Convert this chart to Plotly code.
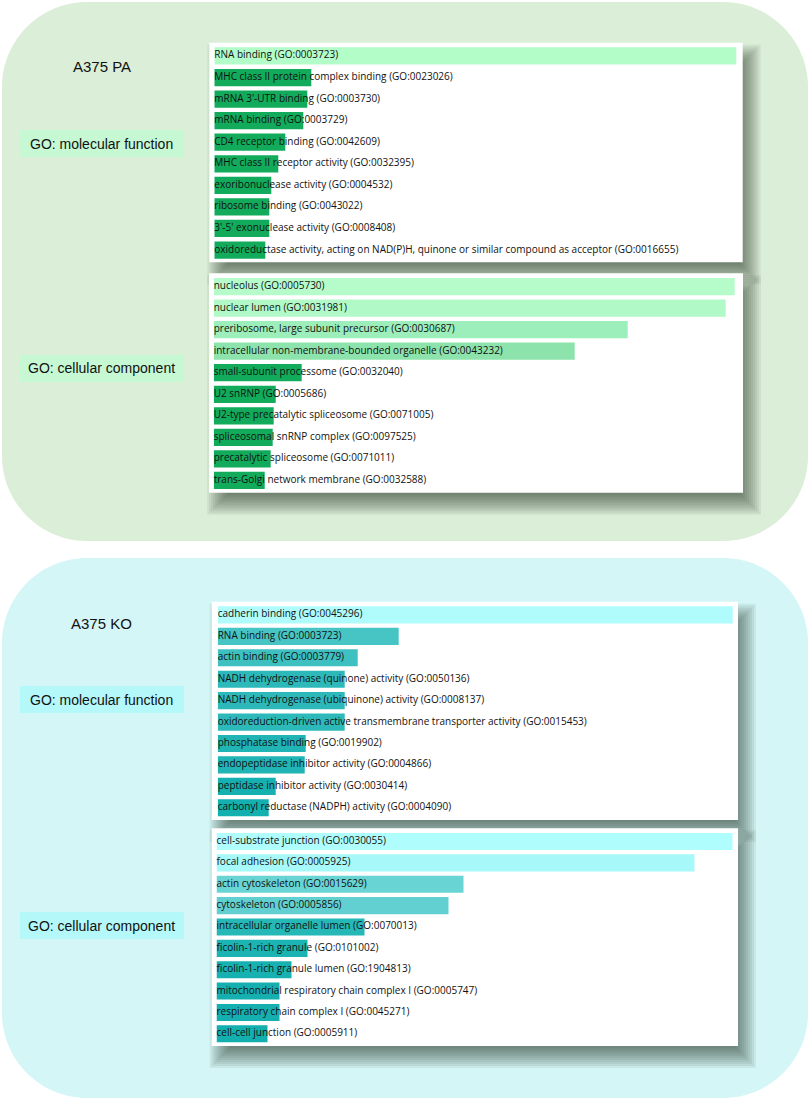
import plotly.graph_objects as go

W, H = 809, 1100

# ---- data (scores) ----
pa_mf_terms = [
    "RNA binding (GO:0003723)",
    "MHC class II protein complex binding (GO:0023026)",
    "mRNA 3'-UTR binding (GO:0003730)",
    "mRNA binding (GO:0003729)",
    "CD4 receptor binding (GO:0042609)",
    "MHC class II receptor activity (GO:0032395)",
    "exoribonuclease activity (GO:0004532)",
    "ribosome binding (GO:0043022)",
    "3'-5' exonuclease activity (GO:0008408)",
    "oxidoreductase activity, acting on NAD(P)H, quinone or similar compound as acceptor (GO:0016655)",
]
pa_mf_scores = [522, 97, 93, 89, 71, 64, 57, 55, 55, 51]

pa_cc_terms = [
    "nucleolus (GO:0005730)",
    "nuclear lumen (GO:0031981)",
    "preribosome, large subunit precursor (GO:0030687)",
    "intracellular non-membrane-bounded organelle (GO:0043232)",
    "small-subunit processome (GO:0032040)",
    "U2 snRNP (GO:0005686)",
    "U2-type precatalytic spliceosome (GO:0071005)",
    "spliceosomal snRNP complex (GO:0097525)",
    "precatalytic spliceosome (GO:0071011)",
    "trans-Golgi network membrane (GO:0032588)",
]
pa_cc_scores = [521, 512, 414, 361, 88, 62, 60, 59, 57, 51]

ko_mf_terms = [
    "cadherin binding (GO:0045296)",
    "RNA binding (GO:0003723)",
    "actin binding (GO:0003779)",
    "NADH dehydrogenase (quinone) activity (GO:0050136)",
    "NADH dehydrogenase (ubiquinone) activity (GO:0008137)",
    "oxidoreduction-driven active transmembrane transporter activity (GO:0015453)",
    "phosphatase binding (GO:0019902)",
    "endopeptidase inhibitor activity (GO:0004866)",
    "peptidase inhibitor activity (GO:0030414)",
    "carbonyl reductase (NADPH) activity (GO:0004090)",
]
ko_mf_scores = [515, 181, 140, 127, 127, 127, 88, 87, 58, 51]

ko_cc_terms = [
    "cell-substrate junction (GO:0030055)",
    "focal adhesion (GO:0005925)",
    "actin cytoskeleton (GO:0015629)",
    "cytoskeleton (GO:0005856)",
    "intracellular organelle lumen (GO:0070013)",
    "ficolin-1-rich granule (GO:0101002)",
    "ficolin-1-rich granule lumen (GO:1904813)",
    "mitochondrial respiratory chain complex I (GO:0005747)",
    "respiratory chain complex I (GO:0045271)",
    "cell-cell junction (GO:0005911)",
]
ko_cc_scores = [516, 478, 247, 232, 148, 91, 75, 63, 63, 51]

# ---- bar colours ----
G = "#12ab5b"
pa_mf_colors = ["#b3fdc8"] + [G] * 9
pa_cc_colors = ["#b5fcca", "#b1fac7", "#9cefba", "#8de3ac"] + [G] * 6
ko_mf_colors = ["#b0fcfc", "#47c5c5", "#3ec0c0", "#2db9b9", "#2db9b9",
                "#2db9b9", "#20b4b4", "#20b4b4", "#17b0b0", "#14afaf"]
ko_cc_colors = ["#b0fdfd", "#a7f8f8", "#68d4d4", "#62d0d0", "#26b7b7",
                "#1cb3b3", "#18b1b1", "#15afaf", "#15afaf", "#13aeae"]


def px(x):
    return x / W


def py(y):
    return 1 - y / H


def rounded_path(x0, y0, x1, y1, r):
    k = 0.5523 * r
    p = lambda x, y: "%.5f,%.5f" % (px(x), py(y))
    return ("M" + p(x0 + r, y0) + " L" + p(x1 - r, y0) +
            " C" + p(x1 - r + k, y0) + " " + p(x1, y0 + r - k) + " " + p(x1, y0 + r) +
            " L" + p(x1, y1 - r) +
            " C" + p(x1, y1 - r + k) + " " + p(x1 - r + k, y1) + " " + p(x1 - r, y1) +
            " L" + p(x0 + r, y1) +
            " C" + p(x0 + r - k, y1) + " " + p(x0, y1 - r + k) + " " + p(x0, y1 - r) +
            " L" + p(x0, y0 + r) +
            " C" + p(x0, y0 + r - k) + " " + p(x0 + r - k, y0) + " " + p(x0 + r, y0) + " Z")


def rect(x0, y0, x1, y1, color, opacity=1):
    return dict(type="rect", xref="paper", yref="paper", layer="below",
                x0=px(x0), x1=px(x1), y0=py(y1), y1=py(y0),
                fillcolor=color, opacity=opacity, line=dict(width=0))


shapes = []
# big rounded backgrounds
shapes.append(dict(type="path", xref="paper", yref="paper", layer="below",
                   path=rounded_path(2, 2, 808, 541, 85),
                   fillcolor="#dbeed7", line=dict(width=0)))
shapes.append(dict(type="path", xref="paper", yref="paper", layer="below",
                   path=rounded_path(2, 558, 808, 1098, 85),
                   fillcolor="#d4f6f6", line=dict(width=0)))

# side label boxes
label_boxes = [(143.5, "#c6f8d4"), (368.5, "#c6f8d4"), (699.5, "#b4f8fa"), (925.5, "#b4f8fa")]
for cy, col in label_boxes:
    shapes.append(rect(20, cy - 13.5, 184, cy + 13.5, col))

# white boxes (x0, y0, x1, y1, bar_left)
panels = [
    (209.3, 42.7, 742.7, 262.3, 214.3),
    (209.1, 273.3, 743.0, 492.7, 213.7),
    (211.7, 601.7, 738.0, 820.0, 217.7),
    (211.7, 828.3, 738.0, 1046.0, 216.5),
]

# soft drop shadows
for x0, y0, x1, y1, _ in panels:
    dx, dy, n, blur = 8, 12, 11, 20
    for i in range(n):
        e = -blur / 2 + blur * i / (n - 1)
        shapes.append(rect(x0 + dx - e, y0 + dy - e, x1 + dx + e, y1 + dy + e,
                           "#1e2a22", 0.065))
for x0, y0, x1, y1, _ in panels:
    shapes.append(rect(x0, y0, x1, y1, "#ffffff"))

series = [
    (pa_mf_terms, pa_mf_scores, pa_mf_colors),
    (pa_cc_terms, pa_cc_scores, pa_cc_colors),
    (ko_mf_terms, ko_mf_scores, ko_mf_colors),
    (ko_cc_terms, ko_cc_scores, ko_cc_colors),
]

fig = go.Figure()
layout_axes = {}
for i, ((terms, scores, colors), (x0, y0, x1, y1, bl)) in enumerate(zip(series, panels)):
    n = i + 1
    xa = "x" if n == 1 else "x%d" % n
    ya = "y" if n == 1 else "y%d" % n
    fig.add_trace(go.Bar(
        x=scores, y=terms, orientation="h",
        marker=dict(color=colors, line=dict(width=0)),
        xaxis=xa, yaxis=ya, hoverinfo="x+y", showlegend=False,
    ))
    fig.add_trace(go.Scatter(
        x=[0] * len(terms), y=terms, mode="text", text=terms,
        textposition="middle right", cliponaxis=False,
        textfont=dict(family="Open Sans", size=10, color="#111111"),
        xaxis=xa, yaxis=ya, hoverinfo="skip", showlegend=False,
    ))
    key = "" if n == 1 else str(n)
    layout_axes["xaxis" + key] = dict(
        domain=[px(bl), px(bl + 530)], range=[0, 530], anchor=ya,
        showgrid=False, zeroline=False, showticklabels=False, ticks="",
        showline=False, fixedrange=True,
    )
    layout_axes["yaxis" + key] = dict(
        domain=[py(y1 - 1.5), py(y0 + 2.5)], range=[9.5, -0.5], type="category",
        anchor=xa, showgrid=False, zeroline=False, showticklabels=False,
        ticks="", showline=False, fixedrange=True,
    )

annotations = []
for text, cy in [("A375 PA", 66.7), ("A375 KO", 623.0)]:
    annotations.append(dict(text=text, x=px(102), y=py(cy), xref="paper", yref="paper",
                            showarrow=False, xanchor="center", yanchor="middle",
                            font=dict(family="Liberation Sans", size=15, color="#111111")))
for text, cy in [("GO: molecular function", 143.5), ("GO: cellular component", 368.5),
                 ("GO: molecular function", 699.5), ("GO: cellular component", 925.5)]:
    annotations.append(dict(text=text, x=px(102), y=py(cy), xref="paper", yref="paper",
                            showarrow=False, xanchor="center", yanchor="middle",
                            font=dict(family="Liberation Sans", size=14, color="#111111")))

fig.update_layout(
    width=W, height=H,
    margin=dict(l=0, r=0, t=0, b=0),
    paper_bgcolor="#ffffff",
    plot_bgcolor="rgba(0,0,0,0)",
    bargap=0.2,
    shapes=shapes,
    annotations=annotations,
    **layout_axes,
)

# page has a default 8px body margin; drop it so the figure sits at the corner
fig.write_html("out.html", config={"displayModeBar": False},
               post_script="document.body.style.margin='0';document.body.style.overflow='hidden';")
